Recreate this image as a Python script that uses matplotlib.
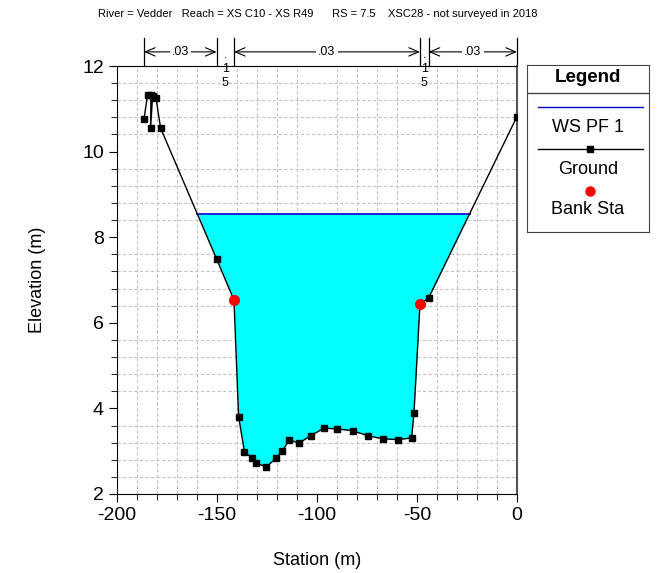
import numpy as np
import matplotlib.pyplot as plt
from matplotlib.transforms import blended_transform_factory

plt.rcParams['font.family'] = ['Liberation Sans', 'DejaVu Sans']
plt.rcParams['axes.unicode_minus'] = False

# ground survey points (station, elevation)
sta = [-186.5, -184.7, -183.0, -183.2, -182.2, -180.5, -178.2, -150.2, -141.5,
       -139.2, -136.3, -132.7, -130.5, -125.5, -120.5, -117.3, -114.0, -109.0,
       -103.2, -96.5, -90.2, -82.2, -74.5, -67.0, -59.5, -52.7, -51.5, -48.5,
       -44.2, 0.0]
elev = [10.76, 11.33, 11.33, 10.55, 11.30, 11.25, 10.55, 7.49, 6.53,
        3.81, 2.99, 2.85, 2.73, 2.63, 2.83, 3.00, 3.26, 3.19,
        3.36, 3.54, 3.52, 3.48, 3.36, 3.29, 3.27, 3.31, 3.90, 6.44,
        6.58, 10.82]
bank_sta = [-141.5, -48.5]
bank_elev = [6.53, 6.44]
ws_elev = 8.55

# manning's n breaks
n_sta = [-186.5, -150.2, -141.5, -48.5, -44.2, 0.0]
n_val = ['.03', '.15', '.03', '.15', '.03']

title = 'River = Vedder   Reach = XS C10 - XS R49      RS = 7.5    XSC28 - not surveyed in 2018'

fig = plt.figure(figsize=(6.58, 5.73), dpi=100)
ax = fig.add_axes([0.1778, 0.1379, 0.6079, 0.7469])

x = np.array(sta)
y = np.array(elev)

# water fill (monotonic part of the section)
xs = x[6:]
ys = y[6:]
ax.fill_between(xs, ys, ws_elev, where=ys < ws_elev, interpolate=True,
                color='#00ffff', lw=0, zorder=2)

# water surface line ends
left = np.interp(ws_elev, ys[:3][::-1], xs[:3][::-1])
right = np.interp(ws_elev, ys[-2:], xs[-2:])
ax.plot([left, right], [ws_elev, ws_elev], color='#0000cc', lw=1.2, zorder=3)

ax.plot(x, y, color='black', lw=1.0, marker='s', ms=4.5, zorder=4)
ax.plot(bank_sta, bank_elev, 'o', color='#ff0000', ms=7, zorder=5, ls='none')

ax.set_xlim(-200, 0)
ax.set_ylim(2, 12)
ax.set_xticks(np.arange(-200, 1, 50))
ax.set_xticks(np.arange(-200, 1, 10), minor=True)
ax.set_yticks(np.arange(2, 12.1, 2))
ax.set_yticks(np.arange(2, 12.01, 0.4), minor=True)
ax.grid(True, which='minor', color='#c4c4c4', ls=(0, (3, 2)), lw=0.8)
ax.set_axisbelow(True)
ax.tick_params(which='major', length=6, labelsize=14, direction='out')
ax.tick_params(which='minor', length=4, direction='out')
ax.spines['right'].set_color('#555555')
ax.spines['right'].set_linewidth(1.5)

ax.set_xlabel('Station (m)', fontsize=13, labelpad=20)
ax.set_ylabel('Elevation (m)', fontsize=13, labelpad=26)

# manning's n annotations above the plot
tr = blended_transform_factory(ax.transData, ax.transAxes)
for s in n_sta:
    ax.plot([s, s], [1.0, 1.066], color='black', lw=0.9, transform=tr, clip_on=False)
for i, n in enumerate(n_val):
    x0, x1 = n_sta[i], n_sta[i + 1]
    xm = (x0 + x1) / 2
    if x1 - x0 > 15:
        ax.annotate('', xy=(x1, 1.033), xytext=(x0, 1.033), xycoords=tr, textcoords=tr,
                    arrowprops=dict(arrowstyle='<->,head_length=0.7,head_width=0.3',
                                    lw=0.8, color='black', shrinkA=0, shrinkB=0))
        ax.text(xm, 1.033, n, transform=tr, ha='center', va='center', fontsize=9,
                bbox=dict(facecolor='white', edgecolor='none', pad=1.5))
    else:
        ax.text(xm, 0.993, '.\n1\n5', transform=tr, ha='center', va='center',
                fontsize=9, linespacing=1.25)

fig.text(0.483, 0.975, title, ha='center', va='center', fontsize=8)

# legend box
lg = fig.add_axes([527 / 658, 1 - 232 / 573, 122 / 658, 167 / 573])
lg.set_xlim(0, 1)
lg.set_ylim(232, 65)
lg.set_xticks([])
lg.set_yticks([])
for sp in lg.spines.values():
    sp.set_color('#444444')
lg.axhline(93, color='#444444', lw=1)
lg.text(0.5, 78, 'Legend', ha='center', va='center', fontsize=13.5, fontweight='bold')
lg.plot([0.09, 0.95], [107, 107], color='#0000cc', lw=1)
lg.text(0.5, 128, 'WS PF 1', ha='center', va='center', fontsize=13)
lg.plot([0.09, 0.5, 0.95], [149, 149, 149], color='black', lw=1)
lg.plot([0.52], [149], 's', color='black', ms=4)
lg.text(0.5, 169, 'Ground', ha='center', va='center', fontsize=13)
lg.plot([0.52], [191], 'o', color='#ff0000', ms=6.5)
lg.text(0.5, 210, 'Bank Sta', ha='center', va='center', fontsize=13)

fig.savefig('out.png', dpi=100)
